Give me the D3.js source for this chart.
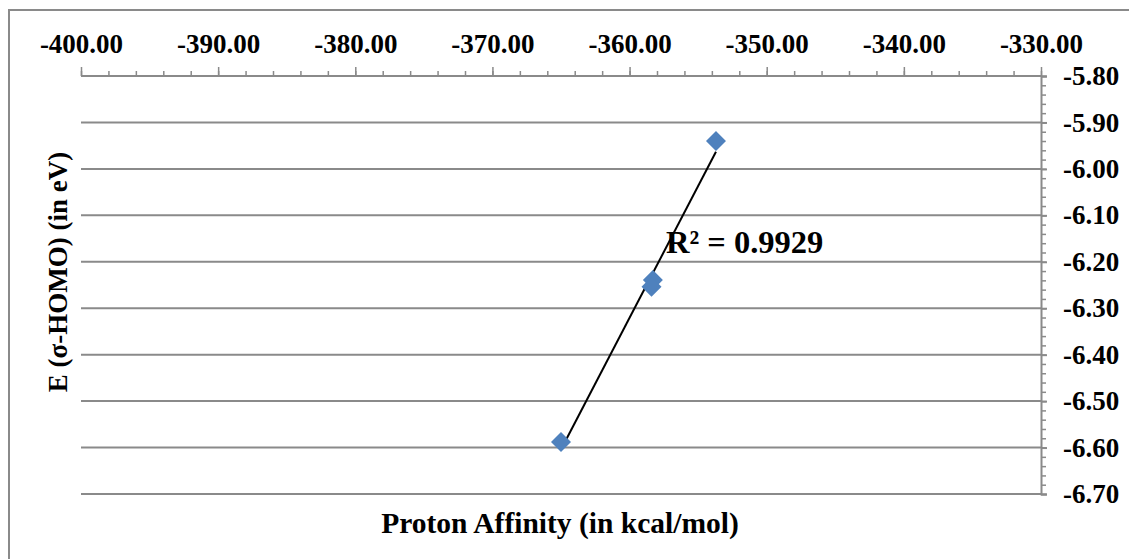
<!DOCTYPE html>
<html lang="en">
<head>
    <meta charset="UTF-8">
    <title>Proton Affinity vs E(σ-HOMO)</title>
    <script src="https://d3js.org/d3.v7.min.js"></script>
    <style>
        body { margin: 0; background: #fff; }
    </style>
</head>
<body>
    <script>
        // data
        const protonAffinity = [-353.7, -358.3, -358.4, -365.0];
        const homoEnergy = [-5.94, -6.239, -6.254, -6.588];
        const xTicks = [-400, -390, -380, -370, -360, -350, -340, -330];
        const yTicks = [-5.8, -5.9, -6.0, -6.1, -6.2, -6.3, -6.4, -6.5, -6.6, -6.7];
        const r2Label = "R² = 0.9929";

        const W = 1129, H = 559;
        const plot = { left: 81, right: 1041, top: 76, bottom: 494 };
        const grey = "#8a8a8a";
        const serif = "'Times New Roman', 'Liberation Serif', 'DejaVu Serif', serif";
        const fmt = d => d.toFixed(2);

        const svg = d3.select("body").append("svg")
            .attr("width", W)
            .attr("height", H)
            .style("font-family", serif)
            .style("font-weight", "bold");

        // chart area border
        svg.append("rect")
            .attr("x", 9).attr("y", 10)
            .attr("width", W + 20).attr("height", H + 20)
            .attr("fill", "#fff")
            .attr("stroke", grey)
            .attr("stroke-width", 2);

        const x = d3.scaleLinear().domain([-400, -330]).range([plot.left, plot.right]);
        const y = d3.scaleLinear().domain([-5.8, -6.7]).range([plot.top, plot.bottom]);

        // horizontal gridlines
        svg.append("g")
            .selectAll("line")
            .data(yTicks.slice(1))
            .enter()
            .append("line")
            .attr("x1", plot.left).attr("x2", plot.right)
            .attr("y1", d => y(d)).attr("y2", d => y(d))
            .attr("stroke", grey)
            .attr("stroke-width", 2);

        // top x axis (ticks point up, minor every 2)
        const xAxis = svg.append("g").attr("transform", `translate(0,${plot.top})`);
        xAxis.call(d3.axisTop(x).tickValues(d3.range(-400, -329, 2)).tickSize(5).tickFormat(""));
        xAxis.selectAll(".tick line").attr("stroke", grey).attr("stroke-width", 1.5);
        xAxis.select(".domain").remove();
        const xMajor = svg.append("g").attr("transform", `translate(0,${plot.top})`);
        xMajor.call(d3.axisTop(x).tickValues(xTicks).tickSize(9).tickPadding(14).tickFormat(fmt));
        xMajor.attr("font-family", null).attr("font-size", null);
        xMajor.select(".domain").remove();
        xMajor.selectAll(".tick line").attr("stroke", grey).attr("stroke-width", 1.5);
        xMajor.selectAll(".tick text").style("font-size", "27px").attr("fill", "#000");
        svg.append("line")
            .attr("x1", plot.left).attr("x2", plot.right)
            .attr("y1", plot.top).attr("y2", plot.top)
            .attr("stroke", grey).attr("stroke-width", 2);

        // right y axis (minor every 0.02)
        const yMinor = svg.append("g").attr("transform", `translate(${plot.right},0)`);
        yMinor.call(d3.axisRight(y).tickValues(d3.range(0, 46).map(i => -5.8 - i * 0.02)).tickSize(5).tickFormat(""));
        yMinor.select(".domain").remove();
        yMinor.selectAll(".tick line").attr("stroke", grey).attr("stroke-width", 1.5);
        const yAxis = svg.append("g").attr("transform", `translate(${plot.right},0)`);
        yAxis.call(d3.axisRight(y).tickValues(yTicks).tickSize(6).tickPadding(16).tickFormat(fmt));
        yAxis.attr("font-family", null).attr("font-size", null);
        yAxis.select(".domain").attr("stroke", grey).attr("stroke-width", 2);
        yAxis.selectAll(".tick line").attr("stroke", grey).attr("stroke-width", 2);
        yAxis.selectAll(".tick text").style("font-size", "27px").attr("fill", "#000");

        // linear trendline from the points
        const n = protonAffinity.length;
        const mx = d3.mean(protonAffinity), my = d3.mean(homoEnergy);
        let sxy = 0, sxx = 0;
        for (let i = 0; i < n; i++) {
            sxy += (protonAffinity[i] - mx) * (homoEnergy[i] - my);
            sxx += (protonAffinity[i] - mx) ** 2;
        }
        const slope = sxy / sxx, icpt = my - slope * mx;
        const [x0, x1] = d3.extent(protonAffinity);
        svg.append("line")
            .attr("x1", x(x0)).attr("y1", y(icpt + slope * x0))
            .attr("x2", x(x1)).attr("y2", y(icpt + slope * x1))
            .attr("stroke", "#000")
            .attr("stroke-width", 2);

        // diamond markers
        svg.append("g")
            .selectAll("path")
            .data(protonAffinity.map((v, i) => [v, homoEnergy[i]]))
            .enter()
            .append("path")
            .attr("transform", d => `translate(${x(d[0])},${y(d[1])})`)
            .attr("d", "M0,-10L10,0L0,10L-10,0Z")
            .attr("fill", "#4f81bd");

        svg.append("text")
            .attr("x", 666).attr("y", 253)
            .style("font-size", "32.5px")
            .text(r2Label);

        // axis titles
        svg.append("text")
            .attr("x", 560).attr("y", 533)
            .attr("text-anchor", "middle")
            .style("font-size", "29.5px")
            .text("Proton Affinity (in kcal/mol)");

        svg.append("text")
            .attr("transform", "translate(67,272) rotate(-90)")
            .attr("text-anchor", "middle")
            .style("font-size", "27px")
            .text("E (σ-HOMO) (in eV)");
    </script>
</body>
</html>
